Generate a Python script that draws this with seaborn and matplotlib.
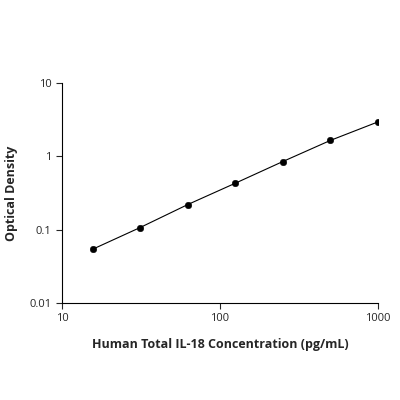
import matplotlib
matplotlib.use("Agg")
import matplotlib.pyplot as plt
import matplotlib.ticker as mticker
import pandas as pd
import seaborn as sns

concentration = [15.6, 31.25, 62.5, 125, 250, 500, 1000]
optical_density = [0.054, 0.107, 0.22, 0.43, 0.85, 1.65, 2.95]

sns.set_theme(style="ticks")
plt.rcParams["font.family"] = ["Open Sans", "DejaVu Sans"]

df = pd.DataFrame({"conc": concentration, "od": optical_density})

fig = plt.figure(figsize=(4, 4), dpi=100)
ax = fig.add_axes([0.155, 0.2425, 0.79, 0.55])
sns.lineplot(data=df, x="conc", y="od", color="black", linewidth=0.8, ax=ax)
sns.scatterplot(data=df, x="conc", y="od", color="black", s=22, edgecolor="black", ax=ax, zorder=3)

ax.set_xscale("log")
ax.set_yscale("log")
ax.set_xlim(10, 1000)
ax.set_ylim(0.01, 10)
ax.xaxis.set_major_formatter(mticker.FuncFormatter(lambda v, _: f"{v:g}"))
ax.yaxis.set_major_formatter(mticker.FuncFormatter(lambda v, _: f"{v:g}"))
ax.minorticks_off()
ax.tick_params(labelsize=8, length=4, width=0.8)
for s in ["top", "right"]:
    ax.spines[s].set_visible(False)
for s in ["left", "bottom"]:
    ax.spines[s].set_linewidth(0.8)
    ax.spines[s].set_color("black")

ax.set_xlabel("Human Total IL-18 Concentration (pg/mL)", fontsize=9, fontweight="bold", labelpad=10)
ax.set_ylabel("Optical Density", fontsize=9, fontweight="bold", labelpad=8)

fig.savefig("out.png", dpi=100)
